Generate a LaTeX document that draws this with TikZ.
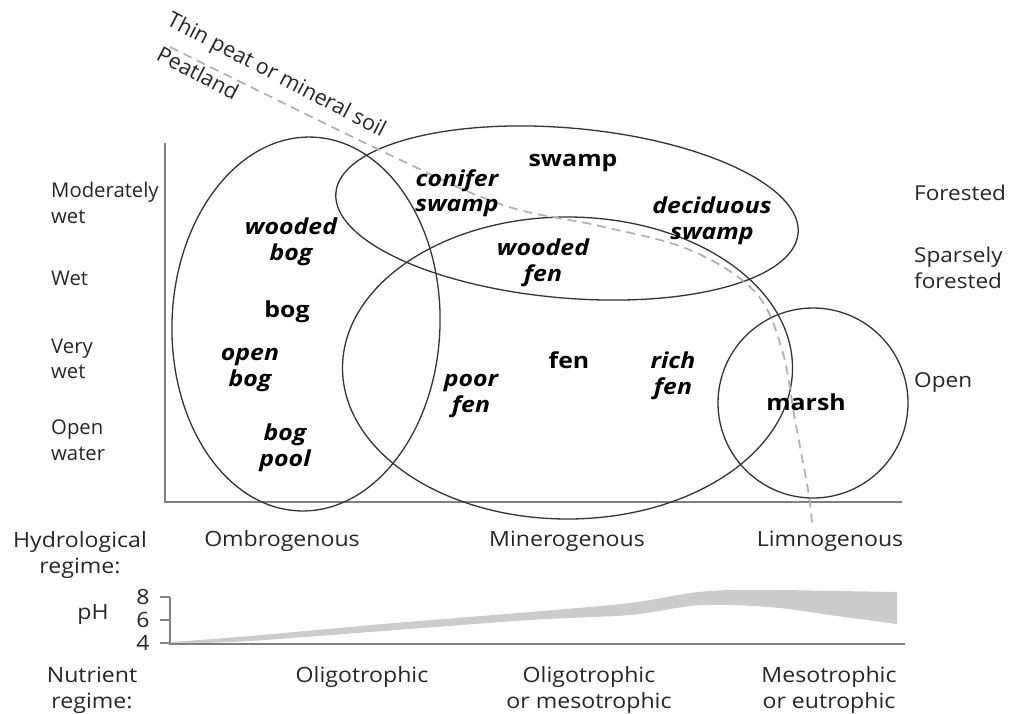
\documentclass[tikz,border=0pt]{standalone}
\usepackage{fontspec}
\setmainfont{Open Sans}
\newfontfamily\widefont[FakeStretch=1.1]{Open Sans}
\newfontfamily\zonefont[FakeStretch=1.13]{Open Sans}
\begin{document}
\begin{tikzpicture}[x=1pt,y=-1pt,
  every node/.style={inner sep=0pt, text=black!85},
  lab/.style={font=\widefont\fontsize{21}{26}\selectfont, align=center},
  labl/.style={font=\fontsize{20.3}{25.5}\selectfont, align=left, anchor=west},
  labr/.style={font=\widefont\fontsize{20.5}{26}\selectfont, align=left, anchor=west},
  peatlab/.style={font=\fontsize{21.5}{25}\selectfont, rotate=-27.5},
  bi/.style={font=\zonefont\fontsize{22}{25.5}\selectfont\bfseries\itshape, align=center, text=black},
  bu/.style={font=\zonefont\fontsize{22}{25.5}\selectfont\bfseries, align=center, text=black},
  zone/.style={draw=black!80, line width=1.3pt},
  axis/.style={draw=black!50, line width=1.8pt},
  divide/.style={draw=black!30, line width=1.8pt, dash pattern=on 9pt off 6pt},
  band/.style={fill=black!20}
]
\useasboundingbox (0,0) rectangle (1011,713);

% pH band
\fill[band] plot[smooth] coordinates {(172,642) (250,636) (383,624) (530,612) (630,603) (690,593) (730,590) (780,590) (840,591) (897,592)}
  -- plot[smooth] coordinates {(897,624) (830,615) (780,608) (730,605) (690,606) (630,615) (530,620) (383,631) (250,641) (172,644)} -- cycle;

% axes
\draw[axis] (165,143) -- (165,502) -- (902,502);
\draw[axis] (170,597) -- (170,644) -- (905,644);
\foreach \yy in {597,620,643} \draw[axis, line width=1.3pt] (160,\yy) -- (170,\yy);

% zones
\draw[zone, rotate around={-2:(306,324)}] (306,324) ellipse [x radius=134pt, y radius=187pt];
\draw[zone, rotate around={-5:(567,213)}] (567,213) ellipse [x radius=232pt, y radius=85pt];
\draw[zone] (567.5,368) ellipse [x radius=225pt, y radius=151pt];
\draw[zone] (813,403) circle [radius=95pt];

% peat divide
\draw[divide] plot[smooth, tension=0.6] coordinates {(170,47) (390,155) (503,205) (600,226) (690,250) (755,292) (782,350) (795,420) (808,490) (812,523)};
\node[peatlab] (thin) at (276,76) {Thin peat or mineral soil};
\node[peatlab] (peat) at (198,73) {Peatland};

% left labels
\node[labl] (mw) at (51,203) {Moderately\\wet};
\node[labl] (w) at (51,278) {Wet};
\node[labl] (vw) at (51,359) {Very\\wet};
\node[labl] (ow) at (51,440) {Open\\water};
% right labels
\node[labr] (fo) at (914,193) {Forested};
\node[labr] (sf) at (914,268) {Sparsely\\forested};
\node[labr] (op) at (914,383) {Open};

% zone labels
\node[bi] (wb) at (291,242) {wooded\\bog};
\node[bu] (bog) at (287,312) {bog};
\node[bi] (ob) at (250,370) {open\\bog};
\node[bi] (bp) at (285,448) {bog\\pool};
\node[bi] (cs) at (457,193) {conifer\\swamp};
\node[bu] (sw) at (573,163) {swamp};
\node[bi] (ds) at (712,221) {deciduous\\swamp};
\node[bi] (wf) at (543,263) {wooded\\fen};
\node[bu] (fen) at (569,360) {fen};
\node[bi] (rf) at (673,376) {rich\\fen};
\node[bi] (pf) at (471,396) {poor\\fen};
\node[bu] (ma) at (806,402) {marsh};

% bottom labels
\node[lab] (hr) at (80,555) {Hydrological\\regime:};
\node[lab] (om) at (282,541) {Ombrogenous};
\node[lab] (mi) at (567,541) {Minerogenous};
\node[lab] (li) at (830,541) {Limnogenous};
\node[lab] (ph) at (93,615) {pH};
\node[lab] (p8) at (143,597) {8};
\node[lab] (p6) at (143,620) {6};
\node[lab] (p4) at (143,643) {4};
\node[lab] (nr) at (92,690) {Nutrient\\regime:};
\node[lab] (ol) at (362,677) {Oligotrophic};
\node[lab] (om2) at (589,690) {Oligotrophic\\or mesotrophic};
\node[lab] (me) at (829,690) {Mesotrophic\\or eutrophic};
\end{tikzpicture}
\end{document}
